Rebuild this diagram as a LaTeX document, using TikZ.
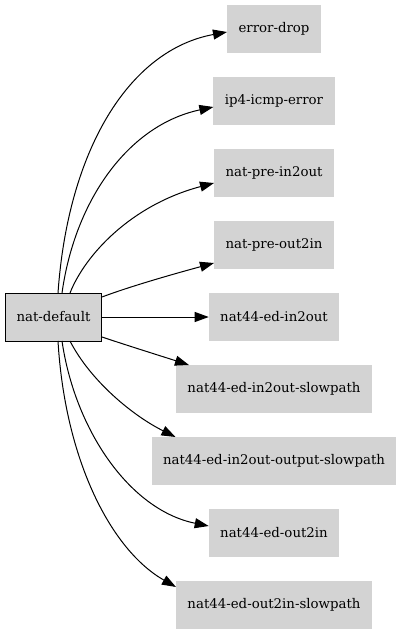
\documentclass[tikz,border=0pt]{standalone}
\usepackage{fontspec}
\setmainfont{DejaVu Serif}
\usepackage{xcolor}
\usepackage{tikz}
\usetikzlibrary{positioning,arrows.meta}
\definecolor{boxgray}{HTML}{D3D3D3}

\begin{document}
\begin{tikzpicture}[x=1pt,y=1pt,
            node distance=24pt,
            target/.style={rectangle,fill=boxgray,minimum height=48pt,inner xsep=11.5pt,outer sep=0pt,font=\fontsize{13.33}{16}\selectfont},
            source/.style={target,draw=black,line width=1pt},
            arrow/.style={-{Triangle[length=14pt,width=10pt]},line width=1pt}]
            \useasboundingbox (0,0) rectangle (403,-635);
            \node[target] (t1) at (274,-29) {error-drop};
            \node[target,below=of t1] (t2) {ip4-icmp-error};
            \node[target,below=of t2] (t3) {nat-pre-in2out};
            \node[target,below=of t3] (t4) {nat-pre-out2in};
            \node[target,below=of t4] (t5) {nat44-ed-in2out};
            \node[target,below=of t5] (t6) {nat44-ed-in2out-slowpath};
            \node[target,below=of t6] (t7) {nat44-ed-in2out-output-slowpath};
            \node[target,below=of t7] (t8) {nat44-ed-out2in};
            \node[target,below=of t8] (t9) {nat44-ed-out2in-slowpath};
            \node[source] (d0) at (53.5,-317) {nat-default};
            \draw[arrow] ([xshift=4.5pt]d0.north) .. controls +(10,143) and +(-98,-18) .. ([yshift=-3pt]t1.west);
            \draw[arrow] ([xshift=8.5pt]d0.north) .. controls +(13,93) and +(-85,-18) .. ([yshift=-6pt]t2.west);
            \draw[arrow] ([xshift=16.5pt]d0.north) .. controls +(15,38) and +(-83,-22) .. ([yshift=-10pt]t3.west);
            \draw[arrow] ([yshift=-4pt]d0.north east) .. controls +(32,12) and +(-33,-9) .. ([yshift=-18pt]t4.west);
            \draw[arrow] (d0.east)--(t5.west);
            \draw[arrow] ([yshift=4pt]d0.south east) .. controls +(27,-9) and +(-28,9) .. ([xshift=13pt]t6.north west);
            \draw[arrow] ([xshift=16.5pt]d0.south) .. controls +(20,-39) and +(-44,22) .. ([xshift=24pt]t7.north west);
            \draw[arrow] ([xshift=8.5pt]d0.south) .. controls +(13,-89) and +(-79,16) .. ([yshift=7pt]t8.west);
            \draw[arrow] ([xshift=4.5pt]d0.south) .. controls +(7,-119) and +(-65,37) .. ([yshift=-6pt]t9.north west);
        \end{tikzpicture}
\end{document}
